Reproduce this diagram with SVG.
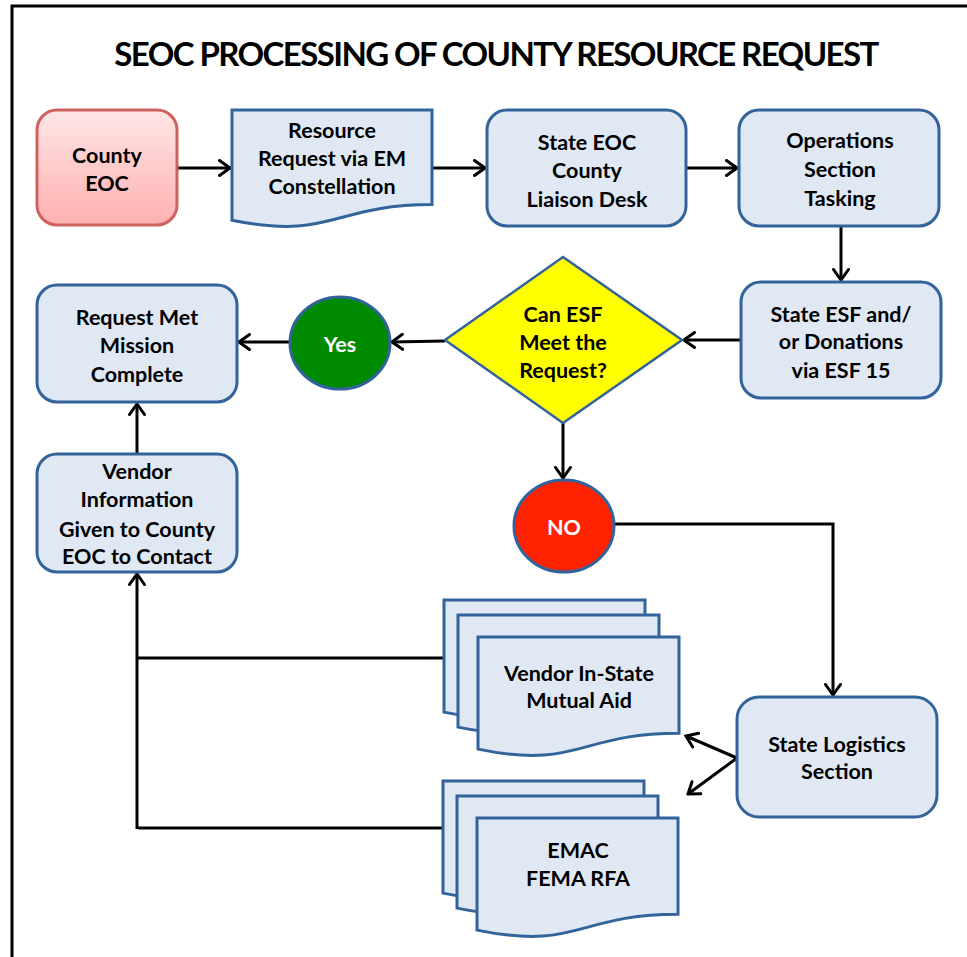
<svg xmlns="http://www.w3.org/2000/svg" width="967" height="957" viewBox="0 0 967 957">
  <defs>
    <linearGradient id="pinkFill" x1="0" y1="0" x2="0" y2="1">
      <stop offset="0" stop-color="#ffe6e6"/>
      <stop offset="1" stop-color="#ffb0b0"/>
    </linearGradient>
    <marker id="arrow" markerUnits="userSpaceOnUse" viewBox="0 0 14 18" markerWidth="14" markerHeight="18" refX="12" refY="9" orient="auto">
      <path d="M1.5,1.5 L12,9 L1.5,16.5" fill="none" stroke="#000" stroke-width="3" stroke-linecap="round" stroke-linejoin="miter"/>
    </marker>
    <style>
      .box { fill: #dfe8f3; stroke: #33639b; stroke-width: 3; }
      .doc { fill: #dfe8f3; stroke: #33639b; stroke-width: 3; stroke-linejoin: miter; }
      .lbl { font-family: Lato, "Open Sans", "Liberation Sans", sans-serif; font-weight: bold; font-size: 21.5px; fill: #000; text-anchor: middle; }
      .wht { fill: #fff; }
      .wire { fill: none; stroke: #000; stroke-width: 3; }
      .title { font-family: Lato, "Open Sans", "Liberation Sans", sans-serif; font-weight: bold; font-size: 33px; letter-spacing: -1.6px; fill: #000; text-anchor: middle; }
    </style>
  </defs>

  <rect width="967" height="957" fill="#fff"/>

  <!-- outer frame: top and left edges only -->
  <path d="M12,957 V6 H967" fill="none" stroke="#000" stroke-width="3"/>

  <text class="title" x="496" y="66">SEOC PROCESSING OF COUNTY RESOURCE REQUEST</text>

  <!-- connectors -->
  <g id="connectors">
    <line class="wire" x1="177" y1="168" x2="230" y2="168" marker-end="url(#arrow)"/>
    <line class="wire" x1="432" y1="168" x2="485" y2="168" marker-end="url(#arrow)"/>
    <line class="wire" x1="686" y1="168" x2="737" y2="168" marker-end="url(#arrow)"/>
    <line class="wire" x1="841" y1="226" x2="841" y2="280" marker-end="url(#arrow)"/>
    <line class="wire" x1="741" y1="340" x2="684" y2="340" marker-end="url(#arrow)"/>
    <line class="wire" x1="445" y1="341" x2="392" y2="342" marker-end="url(#arrow)"/>
    <line class="wire" x1="290" y1="342" x2="239" y2="342" marker-end="url(#arrow)"/>
    <line class="wire" x1="563" y1="423" x2="563" y2="478" marker-end="url(#arrow)"/>
    <polyline class="wire" points="614,524 833,524 833,695" marker-end="url(#arrow)"/>
    <line class="wire" x1="137" y1="454" x2="137" y2="404" marker-end="url(#arrow)"/>
    <line class="wire" x1="137" y1="829" x2="137" y2="574" marker-end="url(#arrow)"/>
    <line class="wire" x1="138" y1="658" x2="443" y2="658"/>
    <line class="wire" x1="138" y1="828" x2="443" y2="828"/>
    <line class="wire" x1="737" y1="758" x2="686" y2="736" marker-end="url(#arrow)"/>
    <line class="wire" x1="737" y1="758" x2="688" y2="794" marker-end="url(#arrow)"/>
  </g>

  <g id="county-eoc">
    <rect x="37" y="110" width="140" height="115" rx="20" fill="url(#pinkFill)" stroke="#cf625e" stroke-width="3"/>
    <text class="lbl" x="107" y="163">County</text>
    <text class="lbl" x="107" y="191">EOC</text>
  </g>

  <g id="resource-request">
    <path class="doc" d="M232,110 H432 V204.6 C332,204.6 332,240.7 232,220.2 Z"/>
    <text class="lbl" x="332" y="138">Resource</text>
    <text class="lbl" x="332" y="166">Request via EM</text>
    <text class="lbl" x="332" y="194">Constellation</text>
  </g>

  <g id="liaison-desk">
    <rect class="box" x="487" y="110" width="199" height="116" rx="20"/>
    <text class="lbl" x="587" y="150">State EOC</text>
    <text class="lbl" x="587" y="178">County</text>
    <text class="lbl" x="587" y="207">Liaison Desk</text>
  </g>

  <g id="operations-tasking">
    <rect class="box" x="739" y="110" width="200" height="116" rx="20"/>
    <text class="lbl" x="840" y="148">Operations</text>
    <text class="lbl" x="840" y="177">Section</text>
    <text class="lbl" x="840" y="206">Tasking</text>
  </g>

  <g id="state-esf">
    <rect class="box" x="741" y="282" width="200" height="116" rx="20"/>
    <text class="lbl" x="841" y="322">State ESF and/</text>
    <text class="lbl" x="841" y="349">or Donations</text>
    <text class="lbl" x="841" y="378">via ESF 15</text>
  </g>

  <g id="decision">
    <polygon points="563,257 682,340 563,423 445,340" fill="#ffff00" stroke="#33639b" stroke-width="2.5"/>
    <text class="lbl" x="563" y="322">Can ESF</text>
    <text class="lbl" x="563" y="350">Meet the</text>
    <text class="lbl" x="563" y="378">Request?</text>
  </g>

  <g id="yes">
    <ellipse cx="340" cy="343" rx="50" ry="46" fill="#008a00" stroke="#33639b" stroke-width="3"/>
    <text class="lbl wht" x="340" y="352">Yes</text>
  </g>

  <g id="no">
    <ellipse cx="564" cy="526" rx="50" ry="46" fill="#ff2200" stroke="#33639b" stroke-width="3"/>
    <text class="lbl wht" x="564" y="535">NO</text>
  </g>

  <g id="mission-complete">
    <rect class="box" x="37" y="285" width="200" height="117" rx="20"/>
    <text class="lbl" x="137" y="325">Request Met</text>
    <text class="lbl" x="137" y="353">Mission</text>
    <text class="lbl" x="137" y="382">Complete</text>
  </g>

  <g id="vendor-information">
    <rect class="box" x="37" y="454" width="200" height="118" rx="20"/>
    <text class="lbl" x="137" y="479">Vendor</text>
    <text class="lbl" x="137" y="507">Information</text>
    <text class="lbl" x="137" y="537">Given to County</text>
    <text class="lbl" x="137" y="564">EOC to Contact</text>
  </g>

  <g id="vendor-mutual-aid">
    <path class="doc" d="M444,600 H645 V696.2 C544.5,696.2 544.5,732.9 444,712.1 Z"/>
    <path class="doc" d="M458,615 H659 V711.2 C558.5,711.2 558.5,747.9 458,727.1 Z"/>
    <path class="doc" d="M478,637 H679 V733.2 C578.5,733.2 578.5,769.9 478,749.1 Z"/>
    <text class="lbl" x="579" y="681">Vendor In-State</text>
    <text class="lbl" x="579" y="708">Mutual Aid</text>
  </g>

  <g id="emac-fema">
    <path class="doc" d="M443,781 H644 V877.2 C543.5,877.2 543.5,913.9 443,893.1 Z"/>
    <path class="doc" d="M457,796 H658 V892.2 C557.5,892.2 557.5,928.9 457,908.1 Z"/>
    <path class="doc" d="M477,818 H678 V914.2 C577.5,914.2 577.5,950.9 477,930.1 Z"/>
    <text class="lbl" x="578" y="858">EMAC</text>
    <text class="lbl" x="578" y="886">FEMA RFA</text>
  </g>

  <g id="state-logistics">
    <rect class="box" x="737" y="697" width="200" height="120" rx="22"/>
    <text class="lbl" x="837" y="752">State Logistics</text>
    <text class="lbl" x="837" y="779">Section</text>
  </g>
</svg>
